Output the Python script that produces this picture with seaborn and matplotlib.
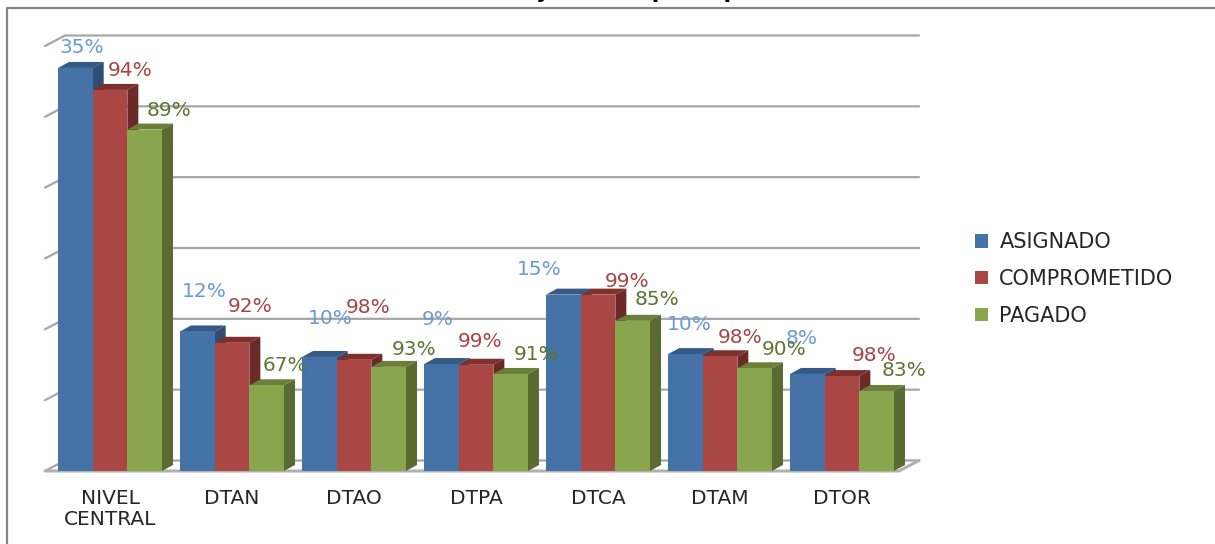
import seaborn as sns
import pandas as pd
from matplotlib import pyplot as plt
from matplotlib.lines import Line2D
from matplotlib.patches import Polygon, Patch

CATEGORIES = ["NIVEL\nCENTRAL", "DTAN", "DTAO", "DTPA", "DTCA", "DTAM", "DTOR"]
SERIES = ["ASIGNADO", "COMPROMETIDO", "PAGADO"]

# heights, in gridline steps (tick labels are not shown)
ASIGNADO = [5.69, 1.97, 1.61, 1.51, 2.49, 1.65, 1.37]
COMPROMETIDO = [5.38, 1.81, 1.57, 1.50, 2.49, 1.62, 1.34]
PAGADO = [4.82, 1.21, 1.47, 1.37, 2.12, 1.45, 1.13]

ASIGNADO_LABELS = ["35%", "12%", "10%", "9%", "15%", "10%", "8%"]
COMPROMETIDO_LABELS = ["94%", "92%", "98%", "99%", "99%", "98%", "98%"]
PAGADO_LABELS = ["89%", "67%", "93%", "91%", "85%", "90%", "83%"]

# label offset from the top centre of its bar, in pixels
ASIGNADO_OFFSETS = [(6, 20), (7, 40), (11, 38), (-4, 45), (-24, 25), (4, 30), (-6, 35)]
COMPROMETIDO_OFFSETS = [(20, 19), (18, 36), (14, 52), (4, 23), (29, 13), (20, 19), (32, 21)]
PAGADO_OFFSETS = [(24, 19), (18, 20), (25, 17), (25, 19), (24, 21), (29, 19), (27, 20)]

FRONT = ["#4572a7", "#aa4643", "#89a54e"]
TOP = ["#355a86", "#7f2f2c", "#6a803a"]
SIDE = ["#2f4d75", "#6b2a27", "#5a6b31"]
LABEL_COLORS = ["#6a9bd8", "#a94442", "#5f7530"]
GRID = "#a6a6a6"

W, H = 1215, 544
LEFT, RIGHT, TOP_PX, BOTTOM = 45, 899, 46, 471
DX, DY = 20, 10.5  # depth of the back wall, pixels
BAR_DX, BAR_DY = 11, 6  # depth of each bar, pixels

sns.set_theme(style="white")
plt.rcParams["font.family"] = ["DejaVu Sans"]

fig = plt.figure(figsize=(W / 100, H / 100), dpi=100)
ax = fig.add_axes([LEFT / W, 1 - BOTTOM / H, (RIGHT - LEFT) / W, (BOTTOM - TOP_PX) / H])

df = pd.DataFrame(
    {"cat": CATEGORIES, "ASIGNADO": ASIGNADO, "COMPROMETIDO": COMPROMETIDO, "PAGADO": PAGADO}
).melt(id_vars="cat", var_name="serie", value_name="valor")

sns.barplot(
    data=df, x="cat", y="valor", hue="serie", hue_order=SERIES,
    palette=FRONT, saturation=1, width=0.852, gap=0, legend=False, ax=ax, zorder=3,
    linewidth=0,
)
ax.set_xlim(-0.533, 6.467)
ax.set_ylim(0, 6)
ax.set_xlabel("")
ax.set_ylabel("")
ax.set_yticks(range(7))
ax.set_yticklabels([])
ax.tick_params(axis="both", length=0)
ax.set_xticklabels(CATEGORIES, fontsize=14.5, color="#262626", linespacing=1.15)
ax.tick_params(axis="x", pad=13)
for spine in ax.spines.values():
    spine.set_visible(False)

to_data = ax.transData.inverted()
unit_x = to_data.transform((1, 0))[0] - to_data.transform((0, 0))[0]
unit_y = to_data.transform((0, 1))[1] - to_data.transform((0, 0))[1]
px_x, px_y = DX * unit_x, DY * unit_y
bar_x, bar_y = BAR_DX * unit_x, BAR_DY * unit_y

# back wall gridlines and the diagonal stubs to the front ticks
x0, x1 = ax.get_xlim()
for tick in range(7):
    ax.plot([x0, x0 + px_x, x1 + px_x], [tick, tick + px_y, tick + px_y],
            color=GRID, lw=1.6, clip_on=False, zorder=1)
ax.plot([x0, x1, x1 + px_x], [0, 0, px_y], color="#b0b0b0", lw=2.2, clip_on=False, zorder=2)

# depth faces, taken from the bars seaborn drew
values = [ASIGNADO, COMPROMETIDO, PAGADO]
texts = [ASIGNADO_LABELS, COMPROMETIDO_LABELS, PAGADO_LABELS]
offsets = [ASIGNADO_OFFSETS, COMPROMETIDO_OFFSETS, PAGADO_OFFSETS]
for s, container in enumerate(ax.containers):
    for i, bar in enumerate(container):
        l, r = bar.get_x(), bar.get_x() + bar.get_width()
        h = bar.get_height()
        z = 3 + s * 0.1
        ax.add_patch(Polygon([(l, h), (r, h), (r + bar_x, h + bar_y), (l + bar_x, h + bar_y)],
                             facecolor=TOP[s], edgecolor="none", zorder=z, clip_on=False))
        ax.add_patch(Polygon([(r, 0), (r, h), (r + bar_x, h + bar_y), (r + bar_x, bar_y)],
                             facecolor=SIDE[s], edgecolor="none", zorder=z, clip_on=False))
        bar.set_zorder(z + 0.05)
        ax.annotate(texts[s][i], xy=((l + r) / 2, values[s][i]), xytext=offsets[s][i],
                    textcoords="offset pixels", ha="center", va="center",
                    fontsize=14.5, color=LABEL_COLORS[s], zorder=6, annotation_clip=False)

handles = [Patch(facecolor=c, edgecolor="none") for c in FRONT]
fig.legend(
    handles, SERIES, loc="center left", bbox_to_anchor=(975 / W, 1 - 279 / H),
    frameon=False, fontsize=15, labelcolor="#262626", labelspacing=0.8,
    handlelength=0.62, handleheight=0.62, handletextpad=0.55, borderpad=0, borderaxespad=0,
)

# outer frame of the pasted chart, cut at the picture edge
fig.add_artist(Line2D([7 / W, 7 / W, 1], [0, 1 - 7.5 / H, 1 - 7.5 / H], color="#868686", lw=1.6))

# title is cropped at the top edge in the reference
fig.text(592 / W, 1 + 1.5 / H, "Gráfica N° 12. Ejecución presupuestaria", ha="center", va="baseline",
         fontsize=16.2, fontweight="bold", color="black")

fig.savefig("out.png", dpi=100)
